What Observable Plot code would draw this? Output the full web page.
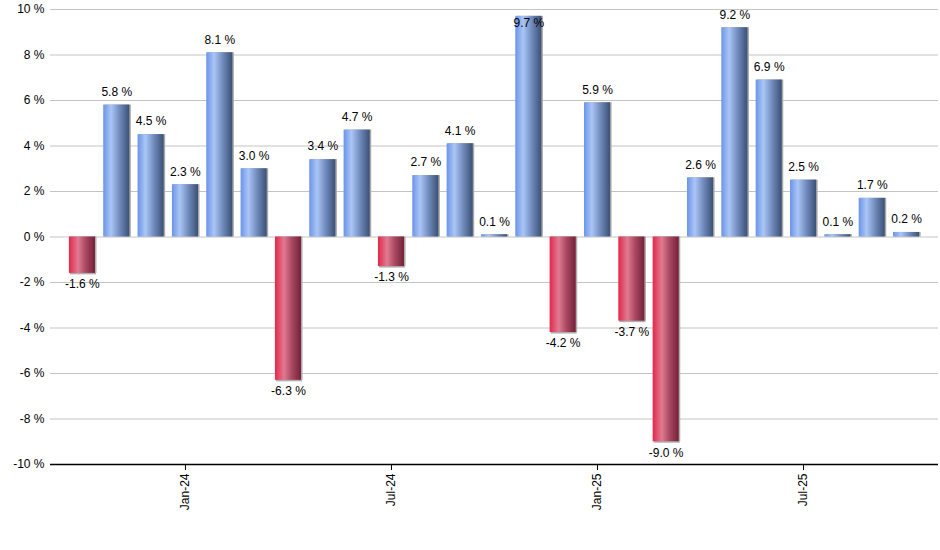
<!DOCTYPE html>
<html>
<head>
<meta charset="utf-8">
<script src="https://cdn.jsdelivr.net/npm/d3@7"></script>
<script src="https://cdn.jsdelivr.net/npm/@observablehq/plot@0.6"></script>
<style>
  html, body { margin: 0; padding: 0; background: #fff; }
  #chart svg { display: block; }
</style>
</head>
<body>
<div id="chart"></div>
<script>
const months = ["Oct-23","Nov-23","Dec-23","Jan-24","Feb-24","Mar-24","Apr-24","May-24","Jun-24","Jul-24","Aug-24","Sep-24","Oct-24","Nov-24","Dec-24","Jan-25","Feb-25","Mar-25","Apr-25","May-25","Jun-25","Jul-25","Aug-25","Sep-25","Oct-25"];
const values = [-1.6, 5.8, 4.5, 2.3, 8.1, 3.0, -6.3, 3.4, 4.7, -1.3, 2.7, 4.1, 0.1, 9.7, -4.2, 5.9, -3.7, -9.0, 2.6, 9.2, 6.9, 2.5, 0.1, 1.7, 0.2];
const xTicks = ["Jan-24", "Jul-24", "Jan-25", "Jul-25"];
const yTicks = [-10, -8, -6, -4, -2, 0, 2, 4, 6, 8, 10];

const data = months.map((m, i) => ({month: m, value: values[i]}));
const fmt = v => v.toFixed(1) + " %";
const font = "Liberation Sans, Arial, sans-serif";

const defs = () => {
  const g = d3.create("svg:defs");
  const blue = g.append("linearGradient").attr("id", "gblue").attr("x1", "0").attr("x2", "1").attr("y1", "0").attr("y2", "0");
  [[0, "#6c94e8"], [0.3, "#aac6f6"], [0.65, "#6d88b8"], [1, "#3a5076"]].forEach(([o, c]) =>
    blue.append("stop").attr("offset", o).attr("stop-color", c));
  const red = g.append("linearGradient").attr("id", "gred").attr("x1", "0").attr("x2", "1").attr("y1", "0").attr("y2", "0");
  [[0, "#e2284a"], [0.35, "#e07a92"], [0.65, "#a84860"], [1, "#76203a"]].forEach(([o, c]) =>
    red.append("stop").attr("offset", o).attr("stop-color", c));
  return g.node();
};

const chart = Plot.plot({
  width: 940,
  height: 550,
  marginLeft: 50,
  marginRight: 2,
  marginTop: 9,
  marginBottom: 86,
  style: {fontFamily: font, fontSize: "12px", color: "#000", background: "#fff"},
  x: {type: "band", domain: months, paddingInner: 0.24, paddingOuter: 0.55, round: false, label: null},
  y: {domain: [-10, 10], label: null},
  marks: [
    defs,
    Plot.ruleY(yTicks.filter(t => t > -10), {stroke: "#c4c4c4", strokeWidth: 1}),
    Plot.barY(data, {x: "month", y1: 0, y2: "value", fill: "#a8a8a8", dx: 1.5}),
    Plot.barY(data.filter(d => d.value < 0), {x: "month", y1: 0, y2: "value", fill: "#b0b0b0", dx: 1, dy: 1.5}),
    Plot.barY(data, {x: "month", y1: 0, y2: "value", fill: d => d.value >= 0 ? "url(#gblue)" : "url(#gred)"}),
    Plot.text(data.filter(d => d.value >= 0 && d.value < 9.5), {x: "month", y: "value", text: d => fmt(d.value), dy: -13, fill: "#000", fontSize: 12}),
    Plot.text(data.filter(d => d.value >= 9.5), {x: "month", y: "value", text: d => fmt(d.value), dy: 7, fill: "#000", fontSize: 12}),
    Plot.text(data.filter(d => d.value < 0), {x: "month", y: "value", text: d => fmt(d.value), dy: 11, fill: "#000", fontSize: 12}),
    Plot.ruleX([0], {frameAnchor: "left", y1: -10, y2: 10, stroke: "#000", strokeWidth: 1.5}),
    Plot.ruleY([-10], {stroke: "#000", strokeWidth: 1.5}),
    Plot.axisY({ticks: yTicks, tickFormat: d => d + " %", tickSize: 0, tickPadding: 6, fontSize: 12, label: null}),
    Plot.axisX({ticks: xTicks, tickRotate: -90, tickSize: 6, tickPadding: 3, fontSize: 12, label: null, stroke: "#000"})
  ]
});
document.getElementById("chart").appendChild(chart);
</script>
</body>
</html>
